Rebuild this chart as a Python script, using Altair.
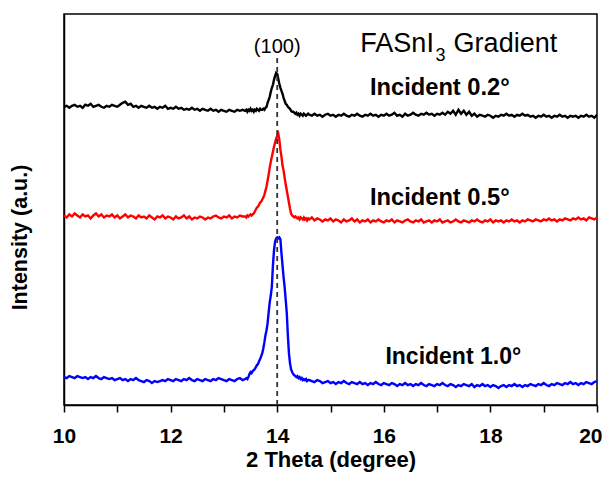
import altair as alt
import pandas as pd

# ---- sampling grids (2θ, degree) ----
left_start, left_step = 10.0, 0.05
peak_start, peak_step = 13.40, 0.02
right_start, right_step = 14.60, 0.05

# ---- Incident 0.2° (black) ----
black_left = [299,300,298,300,301,299,300,298,301,300,
              302,299,300,301,299,298,300,299,301,300,
              299,301,303,304,301,302,299,300,298,300,
              299,298,300,298,299,297,299,298,300,297,
              298,297,299,297,298,296,297,296,298,296,
              297,295,297,296,295,297,295,296,294,296,
              295,294,296,295,294,296,295,296]
black_peak = [295,296,294,296,295,297,295,296,294,296,
              295,297,296,295,297,296,296,297,296,298,
              299,303,306,309,314,318,321,326,330,333,
              332,327,322,318,315,312,308,305,302,301,
              299,298,297,295,294,294,293,292,293,291,
              292,290,292,291,290,292,291,290,291,292]
black_right = [291,290,292,290,291,289,291,292,290,291,
               289,291,290,292,290,289,291,290,292,290,
               289,291,290,292,290,291,289,291,290,292,
               290,291,293,290,291,289,292,290,291,293,
               291,290,292,291,293,291,292,290,292,291,
               293,291,294,292,295,291,296,292,295,291,
               294,290,292,289,291,290,289,291,290,288,
               290,289,291,290,292,290,291,289,291,290,
               292,290,291,289,290,288,290,289,291,289,
               290,288,290,289,291,289,290,288,290,289,
               290,288,290,289,291,289,290,288,291]

# ---- Incident 0.5° (red) ----
red_left = [190,188,191,189,192,190,188,191,189,190,
            187,190,192,189,191,188,190,189,191,188,
            190,187,189,191,188,190,189,187,190,188,
            189,187,190,188,186,189,188,190,187,189,
            188,186,189,187,188,190,187,189,186,188,
            187,189,188,186,188,187,189,190,188,187,
            189,188,190,187,189,188,190,189]
red_peak = [189,188,190,189,190,191,190,191,192,194,
            196,198,199,201,203,204,206,208,211,215,
            219,225,231,238,244,249,254,259,263,267,
            270,272,266,256,249,240,235,228,221,215,
            209,203,197,192,190,189,188,189,188,187,
            188,186,188,187,186,188,186,187,185,187]
red_right = [186,188,185,187,186,184,186,185,187,184,
             186,185,183,186,184,185,187,184,186,183,
             185,184,186,183,185,184,186,184,183,185,
             184,186,183,185,184,183,185,186,184,183,
             185,184,186,183,184,185,183,185,184,186,
             183,184,185,183,184,186,184,183,185,184,
             183,185,184,186,184,183,185,184,186,183,
             185,184,185,183,185,184,186,184,185,183,
             185,184,186,185,184,186,185,184,186,185,
             187,185,186,184,186,185,187,186,185,187,
             186,188,186,187,185,188,187,186,188]

# ---- Incident 1.0° (blue) ----
blue_left = [28,27,29,28,27,29,28,27,28,26,
             28,27,29,27,26,28,27,26,27,25,
             26,27,25,26,24,26,25,27,25,24,
             23,25,24,22,24,23,24,25,24,26,
             25,24,26,25,24,26,25,27,25,24,
             26,25,24,26,25,24,26,25,27,26,
             25,24,26,25,24,26,27,25]
blue_peak = [26,27,26,28,31,33,32,34,35,36,
             38,40,41,44,46,49,52,57,63,70,
             75,82,93,103,110,119,140,155,164,167,
             168,167,168,166,152,140,128,118,105,92,
             70,52,42,36,33,31,30,29,28,29,
             27,28,26,27,25,26,25,26,24,25]
blue_right = [25,24,23,25,24,22,23,24,22,23,
              21,23,22,24,22,21,23,22,21,23,
              21,22,20,22,21,23,21,20,22,21,
              20,22,21,19,21,20,22,20,21,19,
              21,20,22,20,19,21,20,19,21,20,
              22,20,19,21,20,18,20,19,21,20,
              19,21,18,20,19,21,19,20,18,20,
              19,17,19,20,18,20,19,21,19,20,
              18,20,19,21,20,19,21,20,22,20,
              19,21,20,22,21,20,22,21,23,21,
              22,20,22,21,23,22,21,23,24]

series_names = ["Incident 0.2°", "Incident 0.5°", "Incident 1.0°"]
series_colors = ["#000000", "#ff0000", "#0000ff"]
series_parts = [
    (black_left, black_peak, black_right),
    (red_left, red_peak, red_right),
    (blue_left, blue_peak, blue_right),
]
grids = [(left_start, left_step), (peak_start, peak_step), (right_start, right_step)]

rows = []
for name, parts in zip(series_names, series_parts):
    for (start, step), vals in zip(grids, parts):
        for i, v in enumerate(vals):
            rows.append({"x": round(start + step * i, 3), "y": v, "series": name})
df = pd.DataFrame(rows)

# ---- annotations ----
x_ticks = [10, 11, 12, 13, 14, 15, 16, 17, 18, 19, 20]
peak_pos = [14.0]
peak_top = [348]

plain_text = ["(100)", "FASnI", "3", "Gradient"]
plain_x = [14.0, 15.56, 16.97, 17.31]
plain_y = [359, 362, 350, 362]
plain_size = [20, 27, 18, 27]
plain_align = ["center", "left", "left", "left"]

bold_text = ["Incident 0.2°", "Incident 0.5°", "Incident 1.0°"]
bold_x = [15.74, 15.74, 16.03]
bold_y = [318, 208, 48]
bold_size = [23.7, 23.7, 23]

FONT = "Liberation Sans"

xscale = alt.Scale(domain=[10, 20], nice=False)
yscale = alt.Scale(domain=[0, 392], nice=False, zero=False)

last_tick = "datum.value === 20"

lines = alt.Chart(df).mark_line(strokeWidth=2.4, clip=True).encode(
    x=alt.X("x:Q", scale=xscale, axis=alt.Axis(
        title="2 Theta (degree)", values=x_ticks,
        labelExpr="datum.value % 2 === 0 ? datum.label : ''",
        tickSize=7, tickWidth=1.5, tickColor="#000",
        labelFontSize=21, labelFontWeight="bold", labelFont=FONT, labelColor="#000",
        labelPadding=13, labelFlush=False,
        labelAlign={"condition": {"test": last_tick, "value": "right"}, "value": "center"},
        labelOffset={"condition": {"test": last_tick, "value": 5}, "value": 0},
        titleFontSize=22, titleFontWeight="bold", titleFont=FONT, titleColor="#000",
        titleY=61, titleBaseline="alphabetic",
        grid=False, domainColor="#000", domainWidth=1.5)),
    y=alt.Y("y:Q", scale=yscale, axis=alt.Axis(
        title="Intensity (a.u.)", labels=False, ticks=False, grid=False,
        titleFontSize=21.5, titleFontWeight="bold", titleFont=FONT, titleColor="#000",
        titleX=-44, titleY=223, titleAlign="center", titleBaseline="middle", titleAngle=270,
        domainColor="#000", domainWidth=1.5)),
    color=alt.Color("series:N", scale=alt.Scale(domain=series_names, range=series_colors), legend=None),
    detail="series:N",
)

rule_df = pd.DataFrame({"x": peak_pos, "y": peak_top, "y2": [0]})
rule = alt.Chart(rule_df).mark_rule(color="#333333", strokeWidth=1.8, strokeDash=[5, 4]).encode(
    x=alt.X("x:Q", scale=xscale), y=alt.Y("y:Q", scale=yscale), y2="y2:Q"
)

plain_df = pd.DataFrame({"t": plain_text, "x": plain_x, "y": plain_y,
                         "s": plain_size, "a": plain_align})
plain_layers = []
for al in ["center", "left"]:
    sub = plain_df[plain_df["a"] == al]
    plain_layers.append(
        alt.Chart(sub).mark_text(align=al, baseline="middle", font=FONT, color="#000").encode(
            x=alt.X("x:Q", scale=xscale), y=alt.Y("y:Q", scale=yscale),
            text="t:N", size=alt.Size("s:Q", scale=None))
    )

bold_df = pd.DataFrame({"t": bold_text, "x": bold_x, "y": bold_y, "s": bold_size})
bold_layer = alt.Chart(bold_df).mark_text(align="left", baseline="middle", font=FONT,
                                          fontWeight="bold", color="#000").encode(
    x=alt.X("x:Q", scale=xscale), y=alt.Y("y:Q", scale=yscale),
    text="t:N", size=alt.Size("s:Q", scale=None))

chart = alt.layer(lines, rule, *plain_layers, bold_layer).properties(
    width=533, height=391,
    autosize=alt.AutoSizeParams(type="none"),
    padding={"left": 56, "top": 6, "right": 6, "bottom": 67},
).configure_view(stroke="#000", strokeWidth=1.5)

chart.save("out.html", embed_options={"renderer": "svg", "actions": False})
